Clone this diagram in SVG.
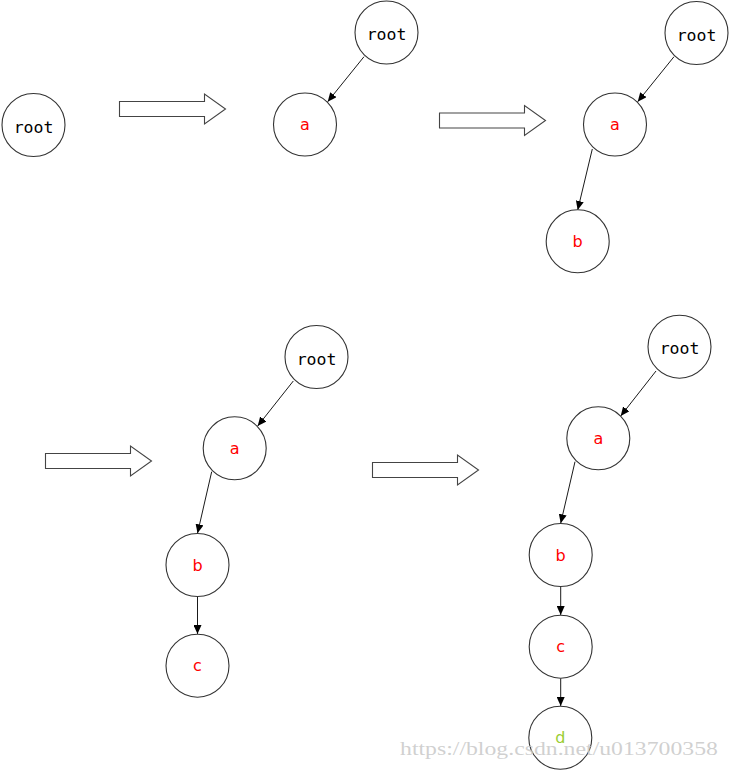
<svg xmlns="http://www.w3.org/2000/svg" xmlns:xlink="http://www.w3.org/1999/xlink" width="730" height="771" viewBox="0 0 730 771">
<style>
.node circle{fill:#fff;stroke:#333;stroke-width:1.1}
.rt{font-family:"DejaVu Sans Mono","Liberation Mono",monospace;font-size:16.5px;fill:#000;text-anchor:middle}
.lt{font-family:"DejaVu Sans","Noto Sans",sans-serif;font-size:16px;fill:#ff0000;text-anchor:middle}
.edges line{stroke:#1a1a1a;stroke-width:1;marker-end:url(#ah)}
.blk{fill:#fff;stroke:#444;stroke-width:1.1}
.wm{font-family:"Liberation Serif",serif;font-size:18px;fill:#c8c8c8;fill-opacity:0.85}
</style>
<defs>
<marker id="ah" markerUnits="userSpaceOnUse" markerWidth="10" markerHeight="8" refX="9" refY="4" orient="auto">
<path d="M0,0 L9,4 L0,8 z" fill="#000"/>
</marker>
<path id="blkarrow" class="blk" d="M0,-7.5 H85 V-15 L106,0 L85,15 V7.5 H0 Z"/>
</defs>

<g id="block-arrows">
<use xlink:href="#blkarrow" x="119.5" y="109"/>
<use xlink:href="#blkarrow" x="439.5" y="120.5"/>
<use xlink:href="#blkarrow" x="45.5" y="461"/>
<use xlink:href="#blkarrow" x="372.5" y="470"/>
</g>

<g class="edges" id="connectors">
<line x1="364" y1="56.7" x2="327.7" y2="101.7"/>
<line x1="674" y1="56.7" x2="637.7" y2="101.7"/>
<line x1="592.3" y1="149" x2="577.7" y2="210"/>
<line x1="293.3" y1="381" x2="257.7" y2="426"/>
<line x1="211.7" y1="471.7" x2="197.5" y2="533.3"/>
<line x1="197.5" y1="596.7" x2="197.5" y2="634"/>
<line x1="656" y1="371" x2="620.7" y2="416"/>
<line x1="575" y1="461.7" x2="560.7" y2="523.3"/>
<line x1="560.7" y1="586.7" x2="560.7" y2="615"/>
<line x1="560.7" y1="678.3" x2="560.7" y2="706"/>
</g>

<g id="p1-root" class="node"><circle cx="33.5" cy="125" r="31.5"/><text class="rt" x="33.5" y="132.5">root</text></g>

<g id="p2-root" class="node"><circle cx="386.5" cy="32.5" r="31.5"/><text class="rt" x="386.5" y="40">root</text></g>
<g id="p2-a" class="node"><circle cx="305" cy="124.5" r="31.5"/><text class="lt" x="305" y="130">a</text></g>

<g id="p3-root" class="node"><circle cx="696.5" cy="33" r="31.5"/><text class="rt" x="696.5" y="40.5">root</text></g>
<g id="p3-a" class="node"><circle cx="615" cy="124.5" r="31.5"/><text class="lt" x="615" y="130">a</text></g>
<g id="p3-b" class="node"><circle cx="577.7" cy="241.3" r="31.5"/><text class="lt" x="577.7" y="246.8">b</text></g>

<g id="p4-root" class="node"><circle cx="316.5" cy="357" r="31.5"/><text class="rt" x="316.5" y="364.5">root</text></g>
<g id="p4-a" class="node"><circle cx="234.7" cy="448.3" r="31.5"/><text class="lt" x="234.7" y="453.8">a</text></g>
<g id="p4-b" class="node"><circle cx="197.5" cy="565" r="31.5"/><text class="lt" x="197.5" y="570.5">b</text></g>
<g id="p4-c" class="node"><circle cx="197.5" cy="665.7" r="31.5"/><text class="lt" x="197.5" y="671.2">c</text></g>

<g id="p5-root" class="node"><circle cx="679.5" cy="346.7" r="31.5"/><text class="rt" x="679.5" y="354.2">root</text></g>
<g id="p5-a" class="node"><circle cx="598.3" cy="438.3" r="31.5"/><text class="lt" x="598.3" y="443.8">a</text></g>
<g id="p5-b" class="node"><circle cx="560.7" cy="555" r="31.5"/><text class="lt" x="560.7" y="560.5">b</text></g>
<g id="p5-c" class="node"><circle cx="560.7" cy="646.7" r="31.5"/><text class="lt" x="560.7" y="652.2">c</text></g>
<g id="p5-d" class="node"><circle cx="560.3" cy="737.7" r="31.5"/><text class="lt" x="560.3" y="743.2" style="fill:#9acd32">d</text></g>

<text class="wm" x="400" y="755" textLength="318" lengthAdjust="spacingAndGlyphs">https://blog.csdn.net/u013700358</text>
</svg>
